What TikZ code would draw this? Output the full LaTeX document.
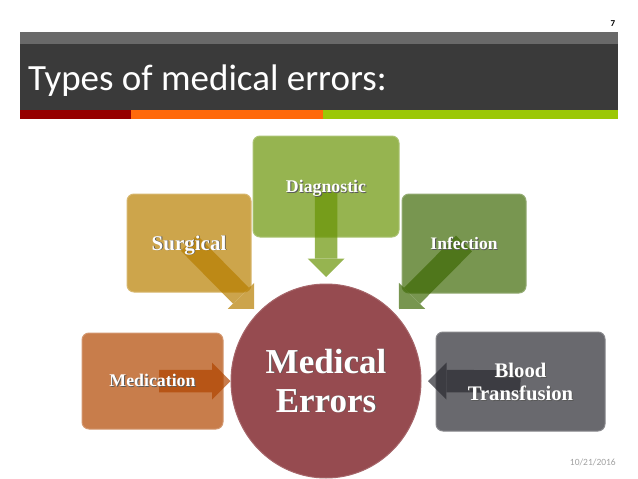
\documentclass[tikz,border=0pt]{standalone}
\usepackage{fontspec}
\setmainfont{Liberation Serif}
\newfontfamily\slidefont{Carlito}
\usetikzlibrary{arrows.meta,shapes.geometric}

\definecolor{headgray}{RGB}{105,105,105}
\definecolor{headdark}{RGB}{58,58,58}
\definecolor{barred}{RGB}{150,0,0}
\definecolor{barorange}{RGB}{255,105,10}
\definecolor{bargreen}{RGB}{155,200,5}
\definecolor{datecol}{RGB}{160,160,160}
\definecolor{errorscol}{RGB}{150,75,80}
\definecolor{medicationcol}{RGB}{200,125,75}
\definecolor{surgicalcol}{RGB}{205,165,75}
\definecolor{diagnosticcol}{RGB}{150,180,80}
\definecolor{infectioncol}{RGB}{120,150,80}
\definecolor{bloodcol}{RGB}{105,105,110}
\definecolor{medicationflow}{RGB}{176,69,0}
\definecolor{surgicalflow}{RGB}{183,126,0}
\definecolor{diagnosticflow}{RGB}{105,148,5}
\definecolor{infectionflow}{RGB}{62,105,5}
\definecolor{bloodflow}{RGB}{41,41,48}

\newcommand{\shadowtext}[1]{\makebox[0pt][l]{\kern.9pt\raisebox{-.9pt}{\textcolor{black!65}{#1}}}#1}

\begin{document}
\begin{tikzpicture}[x=1pt,y=-1pt,
        errorbox/.style={draw=#1!80!white,fill=#1,line width=1pt,rounded corners=7pt,inner sep=0pt},
        flow/.style={line width=22.5pt,-{Triangle[length=18.5pt,width=37pt,line width=0pt]}},
        boxtext/.style={text=white,align=center,font=\bfseries\fontsize{#1}{23}\selectfont,inner sep=0pt}]
        \useasboundingbox (0,0) rectangle (638,479);
        % title band
        \fill[headgray] (20,32) rectangle (618,44);
        \fill[headdark] (20,44) rectangle (618,110);
        \fill[barred] (20,110) rectangle (131,119);
        \fill[barorange] (131,110) rectangle (323,119);
        \fill[bargreen] (323,110) rectangle (618,119);
        \node[anchor=west,text=white,font=\slidefont\fontsize{37}{37}\selectfont,inner sep=0pt] (title) at (28,81) {Types of medical errors:};
        \node[font=\slidefont\bfseries\fontsize{9}{9}\selectfont,inner sep=0pt] (pagenum) at (613,24) {7};
        \node[anchor=east,text=datecol,font=\slidefont\fontsize{9.5}{9.5}\selectfont,inner sep=0pt] (date) at (616,462) {10/21/2016};
        % boxes
        \foreach \N/\X/\Y/\W/\H in {medication/152.5/381/141/96,surgical/189/243/124/98,diagnostic/326/186.5/146/101,infection/464/243.5/124/99,blood/520.5/381.5/169/99}
            {\node[errorbox=\N col,minimum width=\W pt,minimum height=\H pt] (\N) at (\X,\Y) {};
            }
        \node[ellipse,draw=errorscol!85!white,fill=errorscol,line width=1pt,minimum width=190pt,minimum height=194pt,inner sep=0pt] (errors) at (326,381) {};
        % arrows
        \coordinate (medicationtail) at (159,381);
        \coordinate (diagnostictail) at (326,192);
        \coordinate (surgicaltip) at (254,309);
        \coordinate (diagnostictip) at (326,277);
        \coordinate (infectiontip) at (399,309);
        \coordinate (bloodtip) at (428,381);
        \foreach \N/\A/\B in {medication/medicationtail/errors.west,surgical/surgical.center/surgicaltip,diagnostic/diagnostictail/diagnostictip,infection/infection.center/infectiontip,blood/blood.center/bloodtip}
            {\begin{scope}[transparency group,opacity=0.7]
                \draw[flow,\N flow] (\A) -- (\B);
            \end{scope}
            }
        % labels
        \node[boxtext=17.8] (medicationtext) at (medication) {\shadowtext{Medication}};
        \node[boxtext=21,yshift=-2.5pt] (surgicaltext) at (surgical) {\shadowtext{Surgical}};
        \node[boxtext=17.8,yshift=-2pt] (diagnostictext) at (diagnostic) {\shadowtext{Diagnostic}};
        \node[boxtext=17.5] (infectiontext) at (infection) {\shadowtext{Infection}};
        \node[boxtext=20.7,yshift=-1pt] (bloodtext) at (blood) {\shadowtext{Blood}\\\shadowtext{Transfusion}};
        \node[text=white,align=center,font=\bfseries\fontsize{35}{39}\selectfont,inner sep=0pt] (errorstext) at (errors) {\shadowtext{Medical}\\\shadowtext{Errors}};
    \end{tikzpicture}
\end{document}
